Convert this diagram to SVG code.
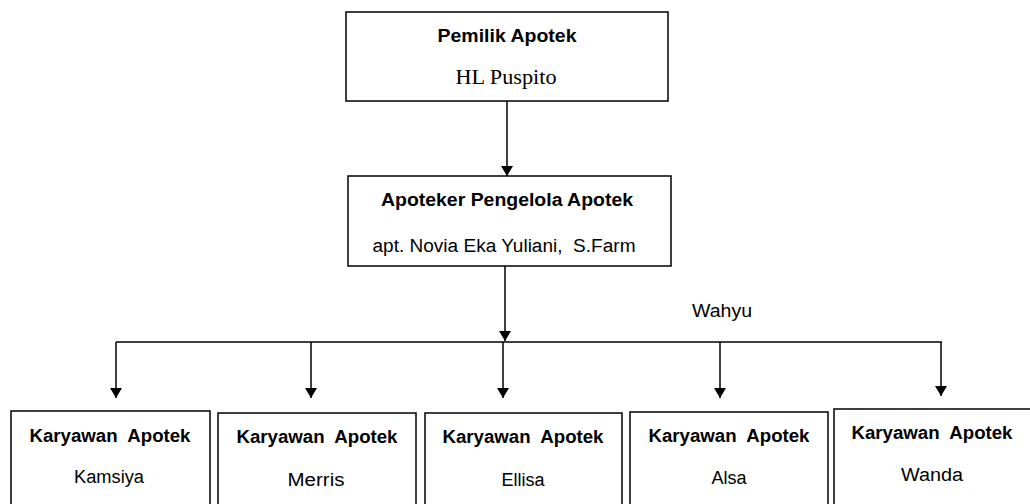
<svg xmlns="http://www.w3.org/2000/svg" width="1030" height="504" viewBox="0 0 1030 504">
<style>
text{white-space:pre}
.box{fill:#fff;stroke:#000;stroke-width:1.5}
.t{font-family:"Liberation Sans",Arial,sans-serif;font-weight:bold;font-size:18px;fill:#000;text-anchor:middle}
.n{font-family:"Liberation Sans",Arial,sans-serif;font-size:18px;fill:#000;text-anchor:middle}
.s{font-family:"Liberation Serif","Times New Roman",serif;font-size:20px;fill:#000;text-anchor:middle}
.c{fill:none;stroke:#000;stroke-width:1.5}
</style>
<defs>
<marker id="ah" viewBox="0 0 10 12" refX="10" refY="6" markerWidth="10" markerHeight="12" markerUnits="userSpaceOnUse" orient="auto">
<path d="M0,0 L10,6 L0,12 z" fill="#000"/>
</marker>
</defs>
<rect width="1030" height="504" fill="#fff"/>
<g id="connectors">
<line class="c" x1="507" y1="101" x2="507" y2="176" marker-end="url(#ah)"/>
<line class="c" x1="505" y1="266" x2="505" y2="341" marker-end="url(#ah)"/>
<line class="c" x1="116" y1="342" x2="942" y2="342"/>
<line class="c" x1="116" y1="342" x2="116" y2="398" marker-end="url(#ah)"/>
<line class="c" x1="311" y1="342" x2="311" y2="398" marker-end="url(#ah)"/>
<line class="c" x1="503" y1="342" x2="503" y2="398" marker-end="url(#ah)"/>
<line class="c" x1="720" y1="342" x2="720" y2="398" marker-end="url(#ah)"/>
<line class="c" x1="941" y1="342" x2="941" y2="396" marker-end="url(#ah)"/>
</g>
<g id="pemilik">
<rect class="box" x="346" y="12" width="322" height="89"/>
<text class="t" x="507" y="42" textLength="139" lengthAdjust="spacingAndGlyphs">Pemilik Apotek</text>
<text class="s" x="506" y="84" textLength="101" lengthAdjust="spacingAndGlyphs">HL Puspito</text>
</g>
<g id="apoteker">
<rect class="box" x="348" y="176" width="323" height="90"/>
<text class="t" x="507" y="206" textLength="252" lengthAdjust="spacingAndGlyphs">Apoteker Pengelola Apotek</text>
<text class="n" x="504" y="252" textLength="263" lengthAdjust="spacingAndGlyphs">apt. Novia Eka Yuliani,  S.Farm</text>
</g>
<g id="wahyu">
<text class="n" x="722" y="317" textLength="60" lengthAdjust="spacingAndGlyphs">Wahyu</text>
</g>
<g id="kamsiya">
<rect class="box" x="11" y="411" width="199" height="100"/>
<text class="t" x="110" y="442" textLength="161" lengthAdjust="spacingAndGlyphs">Karyawan  Apotek</text>
<text class="n" x="109" y="483" textLength="70" lengthAdjust="spacingAndGlyphs">Kamsiya</text>
</g>
<g id="merris">
<rect class="box" x="218" y="413" width="198" height="100"/>
<text class="t" x="317" y="443" textLength="161" lengthAdjust="spacingAndGlyphs">Karyawan  Apotek</text>
<text class="n" x="316" y="486" textLength="57" lengthAdjust="spacingAndGlyphs">Merris</text>
</g>
<g id="ellisa">
<rect class="box" x="425" y="413" width="197" height="100"/>
<text class="t" x="523" y="443" textLength="161" lengthAdjust="spacingAndGlyphs">Karyawan  Apotek</text>
<text class="n" x="523" y="486" textLength="43" lengthAdjust="spacingAndGlyphs">Ellisa</text>
</g>
<g id="alsa">
<rect class="box" x="630" y="412" width="198" height="100"/>
<text class="t" x="729" y="442" textLength="161" lengthAdjust="spacingAndGlyphs">Karyawan  Apotek</text>
<text class="n" x="729" y="484" textLength="35" lengthAdjust="spacingAndGlyphs">Alsa</text>
</g>
<g id="wanda">
<rect class="box" x="834" y="409" width="200" height="100"/>
<text class="t" x="932" y="439" textLength="161" lengthAdjust="spacingAndGlyphs">Karyawan  Apotek</text>
<text class="n" x="932" y="481" textLength="62" lengthAdjust="spacingAndGlyphs">Wanda</text>
</g>
</svg>
